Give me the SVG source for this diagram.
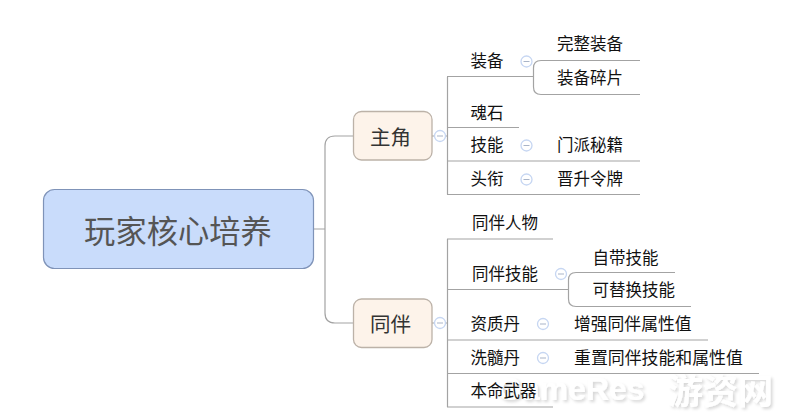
<svg xmlns="http://www.w3.org/2000/svg" width="798" height="420" viewBox="0 0 798 420">
<defs>
<filter id="wm" x="-10%" y="-30%" width="120%" height="170%"><feDropShadow dx="2" dy="2" stdDeviation="1.8" flood-color="#000" flood-opacity="0.16"/></filter>
<g id="toggle"><circle r="5.5" fill="#fff" stroke="#c6d6f2" stroke-width="1.3"/><path d="M-3 0H3" stroke="#a9b4c8" stroke-width="1"/></g>
</defs>
<style>
text{font-family:"Noto Sans CJK SC","Liberation Sans",sans-serif;fill:#111;font-size:16.5px;dominant-baseline:central}
.c{fill:none;stroke:#a3a3a3;stroke-width:1.2}
.m{font-size:20.5px;fill:#333}
.box{fill:#fdf3ea;stroke:#bcb2a8;stroke-width:1.3}
.wm{font-family:"Liberation Sans",sans-serif;font-weight:700;font-size:32px;fill:#fff;filter:url(#wm)}
</style>
<rect width="798" height="420" fill="#fff"/>
<g id="watermark"><text class="wm" x="497" y="389">GameRes</text><text class="wm" x="668" y="388" style="font-family:'Noto Sans CJK SC',sans-serif;font-size:35px">游资网</text></g>
<g id="connectors">
<path class="c" d="M314 229H325M354 136H335Q325 136 325 146V313Q325 323 335 323H354"/>
<path class="c" d="M432 136H447M447.500 77V194.500M447 76.500H534M640 60.500H541Q533.500 60.500 533.500 68V87Q533.500 94.500 541 94.500H640M447 127.500H519M447 161H640M447 194.500H640"/>
<path class="c" d="M432 323H447M447.500 239V407M447 239H553M447 289.500H568.500M675 272.500H576Q568.500 272.500 568.500 280V299Q568.500 306.500 576 306.500H691M447 340H708M447 373.500H759M447 407H553"/>
</g>
<g id="root"><rect x="43.500" y="189.500" width="270" height="79" rx="11" fill="#c9dcfb" stroke="#7f93b8" stroke-width="1.2"/><text x="178" y="229" text-anchor="middle" style="font-size:31.300px;fill:#555">玩家核心培养</text></g>
<g id="n-zhujue"><rect class="box" x="353.500" y="111.500" width="78.500" height="48.500" rx="8"/><text class="m" x="370" y="135.500">主角</text><use href="#toggle" x="440" y="136"/></g>
<g id="n-tongban"><rect class="box" x="353.500" y="299" width="78.500" height="48.500" rx="8"/><text class="m" x="370" y="322.500">同伴</text><use href="#toggle" x="440" y="323"/></g>
<g id="n-zb"><text x="470.500" y="59.500">装备</text><use href="#toggle" x="526.500" y="61.500"/></g>
<g id="n-wz"><text x="557" y="43">完整装备</text></g>
<g id="n-sp"><text x="557" y="77">装备碎片</text></g>
<g id="n-hs"><text x="470.500" y="111.500">魂石</text></g>
<g id="n-jn"><text x="470.500" y="144">技能</text><use href="#toggle" x="526.500" y="145.500"/></g>
<g id="n-mp"><text x="557" y="144">门派秘籍</text></g>
<g id="n-tx"><text x="470.500" y="177.500">头衔</text><use href="#toggle" x="526.500" y="179.500"/></g>
<g id="n-js"><text x="557" y="177.500">晋升令牌</text></g>
<g id="n-rw"><text x="472" y="221.500">同伴人物</text></g>
<g id="n-tj"><text x="472" y="272.500">同伴技能</text><use href="#toggle" x="561" y="274"/></g>
<g id="n-zd"><text x="592.500" y="256.500">自带技能</text></g>
<g id="n-kt"><text x="592.500" y="288.500">可替换技能</text></g>
<g id="n-zz"><text x="470.500" y="322.500">资质丹</text><use href="#toggle" x="543" y="324"/></g>
<g id="n-zq"><text x="574" y="322.500" style="font-size:16.800px">增强同伴属性值</text></g>
<g id="n-xs"><text x="470.500" y="356.500">洗髓丹</text><use href="#toggle" x="543" y="358"/></g>
<g id="n-cz"><text x="574" y="356.500" style="font-size:16.900px">重置同伴技能和属性值</text></g>
<g id="n-bm"><text x="470.500" y="389.500">本命武器</text></g>
</svg>
